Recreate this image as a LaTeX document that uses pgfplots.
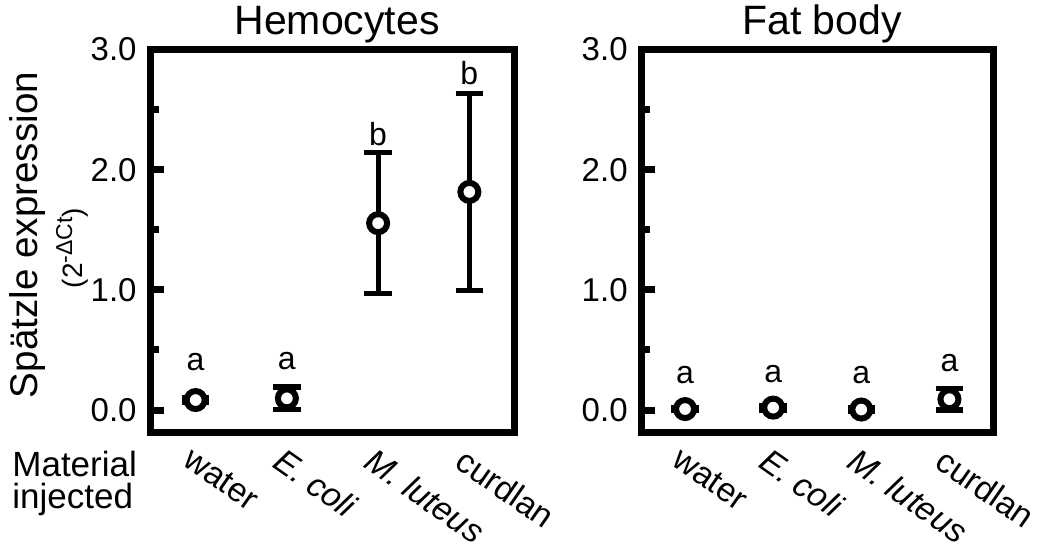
\documentclass[border=0pt]{standalone}
\usepackage{pgfplots}
\pgfplotsset{compat=1.18}
\usepackage{fontspec}
\setmainfont{Liberation Sans}

\pgfplotstableread{
x y e
0 0.083 0.02
1 0.097 0.095
2 1.555 0.585
3 1.815 0.82
}\hemo
\pgfplotstableread{
x y e
0 0.008 0.01
1 0.02 0.02
2 0.004 0.015
3 0.09 0.09
}\fat

\pgfplotsset{
  panel/.style={
    anchor=south west, scale only axis, clip=false,
    height=191.25pt,
    xmin=-0.5, xmax=3.5, ymin=-0.183, ymax=3.0,
    axis line style={line width=3.5pt, line join=miter},
    ytick={0,1,2,3}, minor ytick={0.5,1.5,2.5},
    tick align=inside, ytick pos=left,
    major tick length=6.75pt, minor tick length=4.25pt,
    every tick/.style={line width=3.5pt, black},
    yticklabel style={font=\fontsize{16.5}{19}\selectfont, inner sep=0pt, xshift=-6.5pt,
      /pgf/number format/.cd, fixed, fixed zerofill, precision=1, assume math mode=true},
    xtick={0,1,2,3},
    xticklabels={water, \textit{E. coli}, \textit{M. luteus}, curdlan},
    x tick style={draw=none},
    xticklabel style={xshift=-1pt, yshift=-7pt, rotate=-35, anchor=north west, inner sep=0pt, font=\fontsize{16.8}{20}\selectfont},
  },
  pts/.style={only marks, mark=*, mark size=4.5pt,
    mark options={fill=white, draw=black, line width=3pt},
    error bars/.cd, y dir=both, y explicit,
    error bar style={line width=2.5pt, black},
    error mark options={rotate=90, mark size=6.9pt, line width=2.6pt, black}},
}

\begin{document}
\begin{tikzpicture}
\useasboundingbox (0,0) rectangle (525pt,274pt);

\begin{axis}[panel, at={(75pt,58pt)}, width=182.5pt]
\addplot[pts] table[x=x, y=y, y error=e] {\hemo};
\node[font=\fontsize{16}{18}\selectfont] at (axis cs:0,0.40) {a};
\node[font=\fontsize{16}{18}\selectfont] at (axis cs:1,0.41) {a};
\node[font=\fontsize{16}{18}\selectfont] at (axis cs:2,2.30) {b};
\node[font=\fontsize{16}{18}\selectfont] at (axis cs:3,2.80) {b};
\end{axis}

\begin{axis}[panel, at={(320.5pt,58pt)}, width=176.25pt]
\addplot[pts] table[x=x, y=y, y error=e] {\fat};
\node[font=\fontsize{16}{18}\selectfont] at (axis cs:0,0.29) {a};
\node[font=\fontsize{16}{18}\selectfont] at (axis cs:1,0.30) {a};
\node[font=\fontsize{16}{18}\selectfont] at (axis cs:2,0.29) {a};
\node[font=\fontsize{16}{18}\selectfont] at (axis cs:3,0.39) {a};
\end{axis}

\node[anchor=base, font=\fontsize{20.5}{23}\selectfont] at (168.5pt,257pt) {Hemocytes};
\node[anchor=base, font=\fontsize{20.5}{23}\selectfont] at (411pt,257pt) {Fat body};

\node[anchor=base, rotate=90, font=\fontsize{19.3}{22}\selectfont] at (18.5pt,156.5pt) {Spätzle expression};
\node[anchor=base, rotate=90, font=\fontsize{14}{16}\selectfont] at (41pt,150pt) {(2\raisebox{5pt}{\fontsize{11.5}{13}\selectfont -ΔCt})};

\node[anchor=base west, inner sep=0pt, font=\fontsize{17.5}{20}\selectfont] at (6pt,36pt) {Material};
\node[anchor=base west, inner sep=0pt, font=\fontsize{17.5}{20}\selectfont] at (6pt,20pt) {injected};
\end{tikzpicture}
\end{document}
